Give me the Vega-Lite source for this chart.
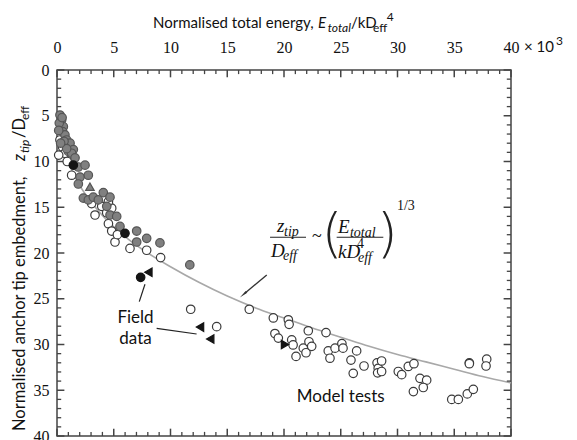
{
  "$schema": "https://vega.github.io/schema/vega-lite/v6.json",
  "width": 454,
  "height": 366,
  "autosize": {"type": "none"},
  "padding": {"left": 57, "top": 70, "right": 66, "bottom": 4},
  "background": "#ffffff",
  "config": {"view": {"stroke": "#444444", "strokeWidth": 1.5}},
  "datasets": {
    "major": [{"v": 0}, {"v": 5}, {"v": 10}, {"v": 15}, {"v": 20}, {"v": 25}, {"v": 30}, {"v": 35}, {"v": 40}],
    "minor": [{"v": 1}, {"v": 2}, {"v": 3}, {"v": 4}, {"v": 6}, {"v": 7}, {"v": 8}, {"v": 9}, {"v": 11}, {"v": 12}, {"v": 13}, {"v": 14}, {"v": 16}, {"v": 17}, {"v": 18}, {"v": 19}, {"v": 21}, {"v": 22}, {"v": 23}, {"v": 24}, {"v": 26}, {"v": 27}, {"v": 28}, {"v": 29}, {"v": 31}, {"v": 32}, {"v": 33}, {"v": 34}, {"v": 36}, {"v": 37}, {"v": 38}, {"v": 39}],
    "curve": [
      {"x": 0.1, "y": 4.6}, {"x": 0.25, "y": 6.3}, {"x": 0.5, "y": 7.9}, {"x": 1, "y": 10.0},
      {"x": 2, "y": 12.6}, {"x": 3, "y": 14.4}, {"x": 4, "y": 15.9}, {"x": 6, "y": 18.2},
      {"x": 8, "y": 20.0}, {"x": 10, "y": 21.5}, {"x": 12.5, "y": 23.2}, {"x": 15, "y": 24.7},
      {"x": 17.5, "y": 26.0}, {"x": 20, "y": 27.1}, {"x": 22.5, "y": 28.2}, {"x": 25, "y": 29.2},
      {"x": 27.5, "y": 30.2}, {"x": 30, "y": 31.1}, {"x": 32.5, "y": 31.9}, {"x": 35, "y": 32.7},
      {"x": 37.5, "y": 33.5}, {"x": 40, "y": 34.2}
    ],
    "pts": [
      {"g": "open", "x": 0.26, "y": 7.65}, {"g": "open", "x": 0.5, "y": 8.45}, {"g": "open", "x": 0.7, "y": 9.1},
      {"g": "open", "x": 0.15, "y": 9.3}, {"g": "open", "x": 0.9, "y": 10.0}, {"g": "open", "x": 1.29, "y": 11.5},
      {"g": "open", "x": 3.05, "y": 14.6}, {"g": "open", "x": 3.35, "y": 15.85}, {"g": "open", "x": 3.94, "y": 14.9},
      {"g": "open", "x": 4.38, "y": 15.6}, {"g": "open", "x": 4.82, "y": 15.1}, {"g": "open", "x": 4.53, "y": 14.4},
      {"g": "open", "x": 4.53, "y": 16.8}, {"g": "open", "x": 4.82, "y": 17.6}, {"g": "open", "x": 5.11, "y": 18.8},
      {"g": "open", "x": 5.32, "y": 18.0}, {"g": "open", "x": 6.43, "y": 19.5}, {"g": "open", "x": 7.9, "y": 19.7},
      {"g": "open", "x": 9.13, "y": 20.5}, {"g": "open", "x": 11.78, "y": 26.15}, {"g": "open", "x": 16.94, "y": 26.15},
      {"g": "open", "x": 19.06, "y": 27.1}, {"g": "open", "x": 14.07, "y": 28.05}, {"g": "open", "x": 19.2, "y": 28.8},
      {"g": "open", "x": 19.5, "y": 29.3}, {"g": "open", "x": 20.38, "y": 27.3}, {"g": "open", "x": 20.45, "y": 27.8},
      {"g": "open", "x": 20.68, "y": 29.5}, {"g": "open", "x": 20.8, "y": 30.05}, {"g": "open", "x": 21.06, "y": 31.3},
      {"g": "open", "x": 21.7, "y": 30.4}, {"g": "open", "x": 21.94, "y": 30.9}, {"g": "open", "x": 22.14, "y": 28.5},
      {"g": "open", "x": 22.2, "y": 29.7}, {"g": "open", "x": 22.44, "y": 30.2}, {"g": "open", "x": 23.7, "y": 28.7},
      {"g": "open", "x": 23.9, "y": 30.7}, {"g": "open", "x": 24.05, "y": 31.5}, {"g": "open", "x": 24.5, "y": 30.4},
      {"g": "open", "x": 25.1, "y": 29.9}, {"g": "open", "x": 25.2, "y": 30.4}, {"g": "open", "x": 25.9, "y": 31.7},
      {"g": "open", "x": 26.1, "y": 33.15}, {"g": "open", "x": 26.4, "y": 30.7}, {"g": "open", "x": 27.05, "y": 32.35},
      {"g": "open", "x": 28.2, "y": 32.0}, {"g": "open", "x": 28.3, "y": 32.6}, {"g": "open", "x": 28.25, "y": 33.1},
      {"g": "open", "x": 28.6, "y": 31.8}, {"g": "open", "x": 28.6, "y": 32.95}, {"g": "open", "x": 30.07, "y": 32.95},
      {"g": "open", "x": 30.37, "y": 33.3}, {"g": "open", "x": 30.95, "y": 32.4}, {"g": "open", "x": 31.45, "y": 32.1},
      {"g": "open", "x": 31.4, "y": 35.15}, {"g": "open", "x": 31.98, "y": 33.7}, {"g": "open", "x": 32.57, "y": 33.9},
      {"g": "open", "x": 32.27, "y": 34.7}, {"g": "open", "x": 34.78, "y": 36.0}, {"g": "open", "x": 35.36, "y": 36.0},
      {"g": "open", "x": 36.15, "y": 35.4}, {"g": "open", "x": 36.68, "y": 34.9}, {"g": "open", "x": 36.33, "y": 32.0},
      {"g": "open", "x": 36.33, "y": 32.1}, {"g": "open", "x": 37.86, "y": 31.6}, {"g": "open", "x": 37.8, "y": 32.35},
      {"g": "gray", "x": 0.26, "y": 4.92}, {"g": "gray", "x": 0.41, "y": 5.46}, {"g": "gray", "x": 0.32, "y": 6.01},
      {"g": "gray", "x": 0.56, "y": 6.2}, {"g": "gray", "x": 0.5, "y": 6.74}, {"g": "gray", "x": 0.7, "y": 7.1},
      {"g": "gray", "x": 0.85, "y": 7.65}, {"g": "gray", "x": 1.15, "y": 8.0}, {"g": "gray", "x": 1.0, "y": 8.9},
      {"g": "gray", "x": 1.44, "y": 8.7}, {"g": "gray", "x": 1.88, "y": 10.6}, {"g": "gray", "x": 2.47, "y": 10.4},
      {"g": "gray", "x": 2.03, "y": 11.7}, {"g": "gray", "x": 2.76, "y": 11.5}, {"g": "gray", "x": 1.88, "y": 12.46},
      {"g": "gray", "x": 2.32, "y": 14.0}, {"g": "gray", "x": 2.76, "y": 14.2}, {"g": "gray", "x": 3.2, "y": 13.9},
      {"g": "gray", "x": 3.64, "y": 14.2}, {"g": "gray", "x": 4.08, "y": 13.4}, {"g": "gray", "x": 4.38, "y": 14.9},
      {"g": "gray", "x": 4.67, "y": 13.9}, {"g": "gray", "x": 4.67, "y": 15.85}, {"g": "gray", "x": 5.26, "y": 16.0},
      {"g": "gray", "x": 5.55, "y": 17.1}, {"g": "gray", "x": 7.02, "y": 17.6}, {"g": "gray", "x": 7.02, "y": 18.8},
      {"g": "gray", "x": 7.9, "y": 18.4}, {"g": "gray", "x": 9.07, "y": 18.9}, {"g": "gray", "x": 11.7, "y": 21.3},
      {"g": "gray", "x": 0.62, "y": 7.8}, {"g": "gray", "x": 1.29, "y": 9.1}, {"g": "gray", "x": 1.59, "y": 9.6},
      {"g": "gray", "x": 0.85, "y": 8.6}, {"g": "gray", "x": 0.32, "y": 8.0}, {"g": "gray", "x": 0.2, "y": 5.8},
      {"g": "gray", "x": 0.15, "y": 6.6}, {"g": "gray", "x": 0.45, "y": 5.2},
      {"g": "gray_tri", "x": 2.9, "y": 12.75},
      {"g": "field", "x": 1.44, "y": 10.4}, {"g": "field", "x": 5.99, "y": 17.85}, {"g": "field", "x": 7.37, "y": 22.66},
      {"g": "field_left", "x": 8.05, "y": 22.1}, {"g": "field_left", "x": 12.6, "y": 28.1}, {"g": "field_left", "x": 13.5, "y": 29.4},
      {"g": "field_right", "x": 20.09, "y": 30.0}
    ],
    "rules": [
      {"x": 7.25, "y": 25.32, "x2": 7.75, "y2": 23.42},
      {"x": 8.78, "y": 28.23, "x2": 12.3, "y2": 28.85},
      {"x": 18.77, "y": 18.28, "x2": 21.94, "y2": 18.28},
      {"x": 24.64, "y": 18.28, "x2": 28.75, "y2": 18.28}
    ],
    "arrow": [
      {"x": 18.48, "y": 22.4, "x2": 16.5, "y2": 24.45}
    ],
    "ann": [
      {"r": "tn", "t": "Normalised total energy,", "x": 8.46, "y": -4.63},
      {"r": "ti", "t": "E", "x": 23.0, "y": -4.63},
      {"r": "tsi", "t": "total", "x": 23.85, "y": -4.2},
      {"r": "tn", "t": "/kD", "x": 25.9, "y": -4.63},
      {"r": "ts", "t": "eff", "x": 27.84, "y": -4.2},
      {"r": "ts", "t": "4", "x": 29.05, "y": -5.36},
      {"r": "tn", "t": "× 10", "x": 41.15, "y": -2.02},
      {"r": "ts", "t": "3", "x": 43.96, "y": -2.75},
      {"r": "yn", "t": "Normalised anchor tip embedment,", "x": -2.82, "y": 39.45},
      {"r": "yi", "t": "z", "x": -2.82, "y": 9.95},
      {"r": "ysi", "t": "tip", "x": -2.47, "y": 9.07},
      {"r": "yn", "t": "/D", "x": -2.82, "y": 7.43},
      {"r": "ys", "t": "eff", "x": -2.47, "y": 5.46},
      {"r": "fi", "t": "z", "x": 19.38, "y": 17.7},
      {"r": "fsi", "t": "tip", "x": 20.0, "y": 18.14},
      {"r": "fi", "t": "D", "x": 18.85, "y": 20.44},
      {"r": "fsi", "t": "eff", "x": 19.91, "y": 20.77},
      {"r": "fn", "t": "~", "x": 22.9, "y": 18.25},
      {"r": "fp", "t": "(", "x": 24.23, "y": 18.14},
      {"r": "fi", "t": "E", "x": 24.76, "y": 17.81},
      {"r": "fsi", "t": "total", "x": 25.81, "y": 18.25},
      {"r": "fi", "t": "kD", "x": 24.76, "y": 20.55},
      {"r": "fs", "t": "4", "x": 26.43, "y": 19.4},
      {"r": "fsi", "t": "eff", "x": 26.52, "y": 21.0},
      {"r": "fp", "t": ")", "x": 29.1, "y": 18.14},
      {"r": "fs", "t": "1/3", "x": 29.95, "y": 15.3},
      {"r": "lab", "t": "Field", "x": 6.92, "y": 27.68},
      {"r": "lab", "t": "data", "x": 6.92, "y": 29.95},
      {"r": "lab", "t": "Model tests", "x": 25.0, "y": 36.25}
    ]
  },
  "layer": [
    {
      "data": {"name": "curve"},
      "mark": {"type": "line", "color": "#a8a8a8", "strokeWidth": 1.6, "interpolate": "monotone"},
      "encoding": {
        "x": {"field": "x", "type": "quantitative", "scale": {"domain": [0, 40], "nice": false},
          "axis": {"orient": "top", "values": [0, 5, 10, 15, 20, 25, 30, 35, 40], "ticks": false, "domain": false, "grid": false, "title": null, "labels": true, "labelFont": "Liberation Serif", "labelFontSize": 16, "labelColor": "#111111", "labelPadding": 15, "labelFlush": false, "labelOverlap": false}},
        "y": {"field": "y", "type": "quantitative", "scale": {"domain": [0, 40], "reverse": true, "nice": false},
          "axis": {"orient": "left", "values": [0, 5, 10, 15, 20, 25, 30, 35, 40], "ticks": false, "domain": false, "grid": false, "title": null, "labels": true, "labelFont": "Liberation Serif", "labelFontSize": 16, "labelColor": "#111111", "labelPadding": 8, "labelFlush": false, "labelOverlap": false}}
      }
    },
    {
      "data": {"name": "major"},
      "mark": {"type": "rule", "color": "#444444", "strokeWidth": 1.5},
      "encoding": {
        "x": {"field": "v", "type": "quantitative", "scale": {"domain": [0, 40], "nice": false}},
        "y": {"datum": 0, "type": "quantitative", "scale": {"domain": [0, 40], "reverse": true, "nice": false}},
        "y2": {"datum": 0.8}
      }
    },
    {
      "data": {"name": "major"},
      "mark": {"type": "rule", "color": "#444444", "strokeWidth": 1.5},
      "encoding": {
        "x": {"field": "v", "type": "quantitative", "scale": {"domain": [0, 40], "nice": false}},
        "y": {"datum": 40, "type": "quantitative", "scale": {"domain": [0, 40], "reverse": true, "nice": false}},
        "y2": {"datum": 39.2}
      }
    },
    {
      "data": {"name": "minor"},
      "mark": {"type": "rule", "color": "#444444", "strokeWidth": 1.3},
      "encoding": {
        "x": {"field": "v", "type": "quantitative", "scale": {"domain": [0, 40], "nice": false}},
        "y": {"datum": 0, "type": "quantitative", "scale": {"domain": [0, 40], "reverse": true, "nice": false}},
        "y2": {"datum": 0.45}
      }
    },
    {
      "data": {"name": "minor"},
      "mark": {"type": "rule", "color": "#444444", "strokeWidth": 1.3},
      "encoding": {
        "x": {"field": "v", "type": "quantitative", "scale": {"domain": [0, 40], "nice": false}},
        "y": {"datum": 40, "type": "quantitative", "scale": {"domain": [0, 40], "reverse": true, "nice": false}},
        "y2": {"datum": 39.55}
      }
    },
    {
      "data": {"name": "major"},
      "mark": {"type": "rule", "color": "#444444", "strokeWidth": 1.5},
      "encoding": {
        "y": {"field": "v", "type": "quantitative", "scale": {"domain": [0, 40], "reverse": true, "nice": false}},
        "x": {"datum": 0, "type": "quantitative", "scale": {"domain": [0, 40], "nice": false}},
        "x2": {"datum": 0.65}
      }
    },
    {
      "data": {"name": "major"},
      "mark": {"type": "rule", "color": "#444444", "strokeWidth": 1.5},
      "encoding": {
        "y": {"field": "v", "type": "quantitative", "scale": {"domain": [0, 40], "reverse": true, "nice": false}},
        "x": {"datum": 40, "type": "quantitative", "scale": {"domain": [0, 40], "nice": false}},
        "x2": {"datum": 39.35}
      }
    },
    {
      "data": {"name": "minor"},
      "mark": {"type": "rule", "color": "#444444", "strokeWidth": 1.3},
      "encoding": {
        "y": {"field": "v", "type": "quantitative", "scale": {"domain": [0, 40], "reverse": true, "nice": false}},
        "x": {"datum": 0, "type": "quantitative", "scale": {"domain": [0, 40], "nice": false}},
        "x2": {"datum": 0.37}
      }
    },
    {
      "data": {"name": "minor"},
      "mark": {"type": "rule", "color": "#444444", "strokeWidth": 1.3},
      "encoding": {
        "y": {"field": "v", "type": "quantitative", "scale": {"domain": [0, 40], "reverse": true, "nice": false}},
        "x": {"datum": 40, "type": "quantitative", "scale": {"domain": [0, 40], "nice": false}},
        "x2": {"datum": 39.63}
      }
    },
    {
      "data": {"name": "pts"},
      "mark": {"type": "point", "filled": true, "size": 72, "strokeWidth": 1.2, "opacity": 1},
      "encoding": {
        "x": {"field": "x", "type": "quantitative", "scale": {"domain": [0, 40], "nice": false}},
        "y": {"field": "y", "type": "quantitative", "scale": {"domain": [0, 40], "reverse": true, "nice": false}},
        "shape": {"field": "g", "type": "nominal", "legend": null, "scale": {"domain": ["open", "gray", "gray_tri", "field", "field_left", "field_right"], "range": ["circle", "circle", "triangle-up", "circle", "triangle-left", "triangle-right"]}},
        "fill": {"field": "g", "type": "nominal", "legend": null, "scale": {"domain": ["open", "gray", "gray_tri", "field", "field_left", "field_right"], "range": ["#ffffff", "#808080", "#808080", "#141414", "#141414", "#141414"]}},
        "stroke": {"field": "g", "type": "nominal", "legend": null, "scale": {"domain": ["open", "gray", "gray_tri", "field", "field_left", "field_right"], "range": ["#3a3a3a", "#555555", "#555555", "#141414", "#141414", "#141414"]}}
      }
    },
    {
      "data": {"name": "rules"},
      "mark": {"type": "rule", "color": "#222222", "strokeWidth": 1.2},
      "encoding": {
        "x": {"field": "x", "type": "quantitative", "scale": {"domain": [0, 40], "nice": false}},
        "y": {"field": "y", "type": "quantitative", "scale": {"domain": [0, 40], "reverse": true, "nice": false}},
        "x2": {"field": "x2"},
        "y2": {"field": "y2"}
      }
    },
    {
      "data": {"name": "arrow"},
      "mark": {"type": "rule", "color": "#333333", "strokeWidth": 1.3},
      "encoding": {
        "x": {"field": "x", "type": "quantitative", "scale": {"domain": [0, 40], "nice": false}},
        "y": {"field": "y", "type": "quantitative", "scale": {"domain": [0, 40], "reverse": true, "nice": false}},
        "x2": {"field": "x2"},
        "y2": {"field": "y2"}
      }
    },
    {
      "data": {"name": "arrow"},
      "mark": {"type": "point", "shape": "wedge", "angle": 230, "size": 100, "filled": true, "color": "#333333", "opacity": 1},
      "encoding": {
        "x": {"field": "x2", "type": "quantitative", "scale": {"domain": [0, 40], "nice": false}},
        "y": {"field": "y2", "type": "quantitative", "scale": {"domain": [0, 40], "reverse": true, "nice": false}}
      }
    },
    {
      "data": {"name": "ann"},
      "transform": [{"filter": "datum.r === 'tn'"}],
      "mark": {"type": "text", "font": "Lato", "fontSize": 15, "align": "left", "baseline": "alphabetic", "color": "#111111"},
      "encoding": {
        "x": {"field": "x", "type": "quantitative", "scale": {"domain": [0, 40], "nice": false}},
        "y": {"field": "y", "type": "quantitative", "scale": {"domain": [0, 40], "reverse": true, "nice": false}},
        "text": {"field": "t"}
      }
    },
    {
      "data": {"name": "ann"},
      "transform": [{"filter": "datum.r === 'ti'"}],
      "mark": {"type": "text", "font": "Lato", "fontSize": 15, "fontStyle": "italic", "align": "left", "baseline": "alphabetic", "color": "#111111"},
      "encoding": {
        "x": {"field": "x", "type": "quantitative", "scale": {"domain": [0, 40], "nice": false}},
        "y": {"field": "y", "type": "quantitative", "scale": {"domain": [0, 40], "reverse": true, "nice": false}},
        "text": {"field": "t"}
      }
    },
    {
      "data": {"name": "ann"},
      "transform": [{"filter": "datum.r === 'tsi'"}],
      "mark": {"type": "text", "font": "Lato", "fontSize": 12, "fontStyle": "italic", "align": "left", "baseline": "alphabetic", "color": "#111111"},
      "encoding": {
        "x": {"field": "x", "type": "quantitative", "scale": {"domain": [0, 40], "nice": false}},
        "y": {"field": "y", "type": "quantitative", "scale": {"domain": [0, 40], "reverse": true, "nice": false}},
        "text": {"field": "t"}
      }
    },
    {
      "data": {"name": "ann"},
      "transform": [{"filter": "datum.r === 'ts'"}],
      "mark": {"type": "text", "font": "Lato", "fontSize": 12, "align": "left", "baseline": "alphabetic", "color": "#111111"},
      "encoding": {
        "x": {"field": "x", "type": "quantitative", "scale": {"domain": [0, 40], "nice": false}},
        "y": {"field": "y", "type": "quantitative", "scale": {"domain": [0, 40], "reverse": true, "nice": false}},
        "text": {"field": "t"}
      }
    },
    {
      "data": {"name": "ann"},
      "transform": [{"filter": "datum.r === 'yn'"}],
      "mark": {"type": "text", "font": "Lato", "fontSize": 16.5, "angle": 270, "align": "left", "baseline": "alphabetic", "color": "#111111"},
      "encoding": {
        "x": {"field": "x", "type": "quantitative", "scale": {"domain": [0, 40], "nice": false}},
        "y": {"field": "y", "type": "quantitative", "scale": {"domain": [0, 40], "reverse": true, "nice": false}},
        "text": {"field": "t"}
      }
    },
    {
      "data": {"name": "ann"},
      "transform": [{"filter": "datum.r === 'yi'"}],
      "mark": {"type": "text", "font": "Lato", "fontSize": 16.5, "fontStyle": "italic", "angle": 270, "align": "left", "baseline": "alphabetic", "color": "#111111"},
      "encoding": {
        "x": {"field": "x", "type": "quantitative", "scale": {"domain": [0, 40], "nice": false}},
        "y": {"field": "y", "type": "quantitative", "scale": {"domain": [0, 40], "reverse": true, "nice": false}},
        "text": {"field": "t"}
      }
    },
    {
      "data": {"name": "ann"},
      "transform": [{"filter": "datum.r === 'ysi'"}],
      "mark": {"type": "text", "font": "Lato", "fontSize": 12, "fontStyle": "italic", "angle": 270, "align": "left", "baseline": "alphabetic", "color": "#111111"},
      "encoding": {
        "x": {"field": "x", "type": "quantitative", "scale": {"domain": [0, 40], "nice": false}},
        "y": {"field": "y", "type": "quantitative", "scale": {"domain": [0, 40], "reverse": true, "nice": false}},
        "text": {"field": "t"}
      }
    },
    {
      "data": {"name": "ann"},
      "transform": [{"filter": "datum.r === 'ys'"}],
      "mark": {"type": "text", "font": "Lato", "fontSize": 12, "angle": 270, "align": "left", "baseline": "alphabetic", "color": "#111111"},
      "encoding": {
        "x": {"field": "x", "type": "quantitative", "scale": {"domain": [0, 40], "nice": false}},
        "y": {"field": "y", "type": "quantitative", "scale": {"domain": [0, 40], "reverse": true, "nice": false}},
        "text": {"field": "t"}
      }
    },
    {
      "data": {"name": "ann"},
      "transform": [{"filter": "datum.r === 'fi'"}],
      "mark": {"type": "text", "font": "Liberation Serif", "fontSize": 19, "fontStyle": "italic", "align": "left", "baseline": "alphabetic", "color": "#111111"},
      "encoding": {
        "x": {"field": "x", "type": "quantitative", "scale": {"domain": [0, 40], "nice": false}},
        "y": {"field": "y", "type": "quantitative", "scale": {"domain": [0, 40], "reverse": true, "nice": false}},
        "text": {"field": "t"}
      }
    },
    {
      "data": {"name": "ann"},
      "transform": [{"filter": "datum.r === 'fsi'"}],
      "mark": {"type": "text", "font": "Liberation Serif", "fontSize": 14, "fontStyle": "italic", "align": "left", "baseline": "alphabetic", "color": "#111111"},
      "encoding": {
        "x": {"field": "x", "type": "quantitative", "scale": {"domain": [0, 40], "nice": false}},
        "y": {"field": "y", "type": "quantitative", "scale": {"domain": [0, 40], "reverse": true, "nice": false}},
        "text": {"field": "t"}
      }
    },
    {
      "data": {"name": "ann"},
      "transform": [{"filter": "datum.r === 'fs'"}],
      "mark": {"type": "text", "font": "Liberation Serif", "fontSize": 14, "align": "left", "baseline": "alphabetic", "color": "#111111"},
      "encoding": {
        "x": {"field": "x", "type": "quantitative", "scale": {"domain": [0, 40], "nice": false}},
        "y": {"field": "y", "type": "quantitative", "scale": {"domain": [0, 40], "reverse": true, "nice": false}},
        "text": {"field": "t"}
      }
    },
    {
      "data": {"name": "ann"},
      "transform": [{"filter": "datum.r === 'fn'"}],
      "mark": {"type": "text", "font": "Liberation Serif", "fontSize": 18, "align": "center", "baseline": "middle", "color": "#111111"},
      "encoding": {
        "x": {"field": "x", "type": "quantitative", "scale": {"domain": [0, 40], "nice": false}},
        "y": {"field": "y", "type": "quantitative", "scale": {"domain": [0, 40], "reverse": true, "nice": false}},
        "text": {"field": "t"}
      }
    },
    {
      "data": {"name": "ann"},
      "transform": [{"filter": "datum.r === 'fp'"}],
      "mark": {"type": "text", "font": "DejaVu Sans", "fontWeight": 200, "fontSize": 54, "align": "center", "baseline": "middle", "color": "#222222"},
      "encoding": {
        "x": {"field": "x", "type": "quantitative", "scale": {"domain": [0, 40], "nice": false}},
        "y": {"field": "y", "type": "quantitative", "scale": {"domain": [0, 40], "reverse": true, "nice": false}},
        "text": {"field": "t"}
      }
    },
    {
      "data": {"name": "ann"},
      "transform": [{"filter": "datum.r === 'lab'"}],
      "mark": {"type": "text", "font": "Lato", "fontSize": 17, "align": "center", "baseline": "alphabetic", "color": "#111111"},
      "encoding": {
        "x": {"field": "x", "type": "quantitative", "scale": {"domain": [0, 40], "nice": false}},
        "y": {"field": "y", "type": "quantitative", "scale": {"domain": [0, 40], "reverse": true, "nice": false}},
        "text": {"field": "t"}
      }
    }
  ]
}
